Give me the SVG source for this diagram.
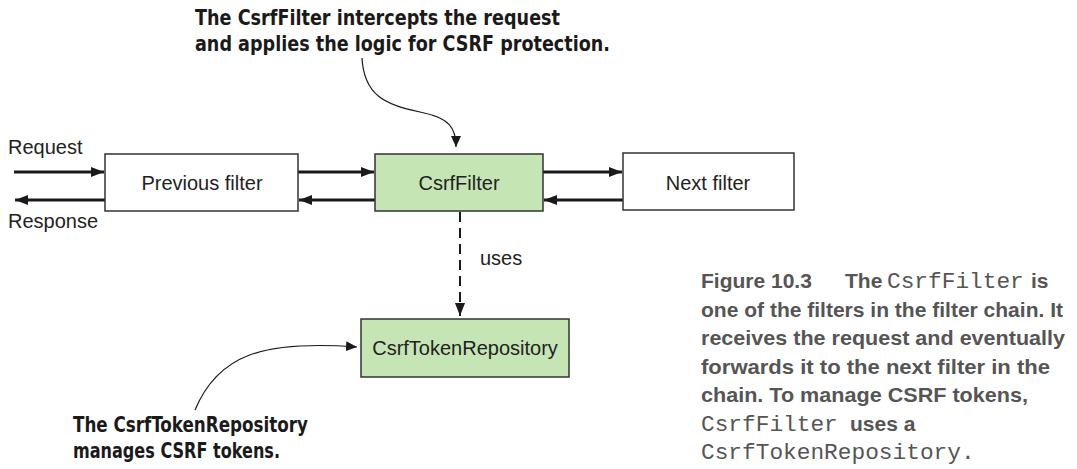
<svg xmlns="http://www.w3.org/2000/svg" width="1077" height="469" viewBox="0 0 1077 469">
<style>
.box{stroke:#333;stroke-width:1.5}
.white{fill:#fff}
.green{fill:#c5e5b5}
.lbl{font-family:"Liberation Sans",Arial,sans-serif;font-size:20px;fill:#222}
.flow{stroke:#1a1a1a;stroke-width:3;fill:none}
.dash{stroke:#1a1a1a;stroke-width:2;stroke-dasharray:10 6;fill:none}
.note{stroke:#1a1a1a;stroke-width:1.2;fill:none}
.ann{font-family:"DejaVu Sans Condensed","Liberation Sans Narrow","Liberation Sans",sans-serif;font-weight:bold;font-size:22px;fill:#1a1a1a}
.cap{font-family:"Liberation Sans",Arial,sans-serif;font-weight:bold;font-size:21px;fill:#555}
.mono{font-family:"Liberation Mono","Courier New",monospace;font-weight:normal;font-size:22.8px;fill:#555}
</style>
<defs>
<marker id="ah" markerUnits="userSpaceOnUse" markerWidth="14" markerHeight="10" refX="13" refY="5" orient="auto">
<path d="M0,0 L13,5 L0,10 Z" fill="#1a1a1a"/>
</marker>
<marker id="ahs" markerUnits="userSpaceOnUse" markerWidth="12" markerHeight="10" refX="11" refY="5" orient="auto">
<path d="M0,0 L11,5 L0,10 Z" fill="#1a1a1a"/>
</marker>
</defs>
<g id="connectors">
<line class="flow" x1="14" y1="172" x2="104" y2="172" marker-end="url(#ah)"/>
<line class="flow" x1="105" y1="200" x2="15" y2="200" marker-end="url(#ah)"/>
<line class="flow" x1="298" y1="172" x2="374" y2="172" marker-end="url(#ah)"/>
<line class="flow" x1="375" y1="200" x2="299" y2="200" marker-end="url(#ah)"/>
<line class="flow" x1="543" y1="172" x2="622" y2="172" marker-end="url(#ah)"/>
<line class="flow" x1="623" y1="200" x2="544" y2="200" marker-end="url(#ah)"/>
<line class="dash" x1="460" y1="212" x2="460" y2="316" marker-end="url(#ah)"/>
<path class="note" d="M362,58 C364,95 385,105 420,112 C450,118 456,128 456,147" marker-end="url(#ahs)"/>
<path class="note" d="M195,410 C218,355 262,340 357,347" marker-end="url(#ahs)"/>
</g>
<g id="node-previous">
<rect class="box white" x="105" y="154" width="193" height="57"/>
<text class="lbl" x="202" y="190" text-anchor="middle">Previous filter</text>
</g>
<g id="node-csrffilter">
<rect class="box green" x="375" y="154" width="168" height="57"/>
<text class="lbl" x="459" y="190" text-anchor="middle">CsrfFilter</text>
</g>
<g id="node-next">
<rect class="box white" x="623" y="153" width="171" height="57"/>
<text class="lbl" x="708" y="190" text-anchor="middle">Next filter</text>
</g>
<g id="node-repo">
<rect class="box green" x="361" y="319" width="208" height="58"/>
<text class="lbl" x="465" y="355" text-anchor="middle">CsrfTokenRepository</text>
</g>
<g id="labels">
<text class="lbl" x="8" y="154">Request</text>
<text class="lbl" x="8" y="228">Response</text>
<text class="lbl" x="480" y="265">uses</text>
<text class="ann" x="195" y="25" textLength="365" lengthAdjust="spacingAndGlyphs">The CsrfFilter intercepts the request</text>
<text class="ann" x="195" y="51" textLength="415" lengthAdjust="spacingAndGlyphs">and applies the logic for CSRF protection.</text>
<text class="ann" x="73" y="432" textLength="235" lengthAdjust="spacingAndGlyphs">The CsrfTokenRepository</text>
<text class="ann" x="73" y="458" textLength="207" lengthAdjust="spacingAndGlyphs">manages CSRF tokens.</text>
</g>
<g id="caption">
<text class="cap" y="288"><tspan x="701">Figure 10.3</tspan><tspan x="845">The</tspan><tspan x="887" class="mono">CsrfFilter</tspan><tspan x="1031">is</tspan></text>
<text class="cap" x="701" y="316.5" textLength="362" lengthAdjust="spacingAndGlyphs">one of the filters in the filter chain. It</text>
<text class="cap" x="701" y="345" textLength="364" lengthAdjust="spacingAndGlyphs">receives the request and eventually</text>
<text class="cap" x="701" y="373.5" textLength="349" lengthAdjust="spacingAndGlyphs">forwards it to the next filter in the</text>
<text class="cap" x="701" y="402" textLength="327" lengthAdjust="spacingAndGlyphs">chain. To manage CSRF tokens,</text>
<text class="cap" y="430.5"><tspan x="701" class="mono">CsrfFilter</tspan><tspan x="850">uses a</tspan></text>
<text class="cap" y="459"><tspan x="701" class="mono">CsrfTokenRepository.</tspan></text>
</g>
</svg>
